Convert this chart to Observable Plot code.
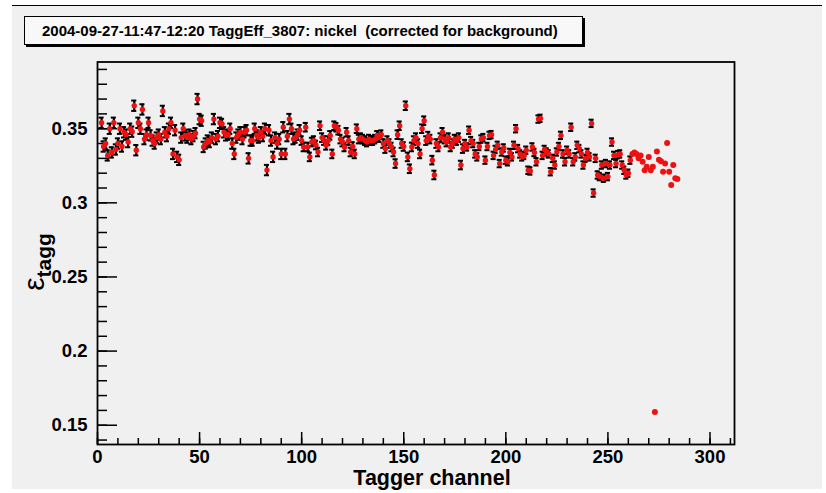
<!DOCTYPE html>
<html><head><meta charset="utf-8">
<script src="https://cdn.jsdelivr.net/npm/d3@7"></script>
<script src="https://cdn.jsdelivr.net/npm/@observablehq/plot@0.6"></script>
<style>
html,body{margin:0;padding:0;background:#fff;width:826px;height:493px;overflow:hidden;font-family:"Liberation Sans",Arial,sans-serif;}
#canvas{position:absolute;left:12px;top:5px;width:810px;height:483px;background:#f0f0f0;border-top:1.5px solid #000;}
#chart{position:absolute;left:0;top:0;}
#title{position:absolute;left:24px;top:16px;width:559px;height:29px;background:#f8f8f8;border:1.5px solid #000;box-shadow:2px 2px 0 #000;font:bold 15px "Liberation Sans",Arial,sans-serif;line-height:27px;padding-left:17px;box-sizing:border-box;white-space:pre;color:#000;}
</style></head><body>
<div id="canvas"></div>
<div id="chart"></div>
<div id="title">2004-09-27-11:47-12:20 TaggEff_3807: nickel  (corrected for background)</div>
<script>
// Tagging efficiency with error bars, channels 2..261
const effStartChannel = 2;
const efficiency = [
  0.354, 0.338, 0.340, 0.332, 0.350, 0.334, 0.354, 0.336, 0.340, 0.350,
  0.338, 0.3476, 0.346, 0.341, 0.350, 0.348, 0.3655, 0.3355, 0.354, 0.350,
  0.363, 0.343, 0.346, 0.354, 0.3455, 0.342, 0.340, 0.344, 0.346, 0.343,
  0.362, 0.3476, 0.345, 0.350, 0.354, 0.333, 0.349, 0.331, 0.329, 0.344,
  0.350, 0.3455, 0.344, 0.346, 0.343, 0.345, 0.347, 0.370, 0.3565, 0.3554,
  0.3377, 0.340, 0.342, 0.341, 0.344, 0.3565, 0.343, 0.345, 0.354, 0.3532,
  0.3476, 0.3455, 0.346, 0.350, 0.340, 0.333, 0.344, 0.346, 0.3476, 0.343,
  0.3476, 0.349, 0.330, 0.342, 0.342, 0.350, 0.3455, 0.344, 0.3476, 0.345,
  0.350, 0.3221, 0.349, 0.342, 0.331, 0.344, 0.340, 0.343, 0.333, 0.351,
  0.333, 0.345, 0.3565, 0.350, 0.343, 0.344, 0.346, 0.349, 0.342, 0.3377,
  0.351, 0.3377, 0.331, 0.341, 0.342, 0.339, 0.3343, 0.352, 0.344, 0.342,
  0.3388, 0.342, 0.3455, 0.333, 0.352, 0.351, 0.349, 0.343, 0.341, 0.3377,
  0.3476, 0.342, 0.3343, 0.338, 0.333, 0.350, 0.343, 0.344, 0.343, 0.342,
  0.341, 0.343, 0.342, 0.342, 0.343, 0.3455, 0.344, 0.346, 0.340, 0.3366,
  0.342, 0.340, 0.3377, 0.3343, 0.3265, 0.346, 0.352, 0.340, 0.338, 0.3655,
  0.331, 0.323, 0.3377, 0.342, 0.344, 0.340, 0.333, 0.350, 0.3554, 0.342,
  0.345, 0.343, 0.3288, 0.3188, 0.340, 0.3377, 0.344, 0.3476, 0.343, 0.341,
  0.344, 0.3377, 0.340, 0.343, 0.342, 0.344, 0.3255, 0.3366, 0.340, 0.3377,
  0.349, 0.342, 0.340, 0.333, 0.331, 0.338, 0.343, 0.344, 0.3288, 0.338,
  0.3455, 0.346, 0.332, 0.336, 0.3388, 0.3265, 0.3343, 0.337, 0.3288, 0.3277,
  0.334, 0.331, 0.3388, 0.350, 0.3366, 0.333, 0.331, 0.332, 0.3355, 0.322,
  0.3215, 0.3377, 0.334, 0.3277, 0.3565, 0.357, 0.332, 0.336, 0.3343, 0.333,
  0.321, 0.330, 0.3255, 0.3343, 0.338, 0.3455, 0.333, 0.3277, 0.3355, 0.333,
  0.351, 0.3277, 0.331, 0.3388, 0.3366, 0.333, 0.3255, 0.330, 0.334, 0.331,
  0.3536, 0.3066, 0.330, 0.3188, 0.3177, 0.3255, 0.3166, 0.3265, 0.3177, 0.3255,
  0.341, 0.332, 0.3265, 0.3325, 0.333, 0.3255, 0.322, 0.3188, 0.320, 0.3288
];
// error half-widths by channel range [from, to, error]
const errorRanges = [[0, 99, 0.0035], [100, 179, 0.0029], [180, 400, 0.0025]];
// points without error bars, channels 262..284
const redStartChannel = 262;
const redOnly = [
  0.333, 0.334, 0.333, 0.330, 0.332, 0.3277, 0.322, 0.3243, 0.331, 0.322,
  0.3243, 0.159, 0.3347, 0.329, 0.328, 0.321, 0.3265, 0.3403, 0.321, 0.312,
  0.3255, 0.3166, 0.316
];
const xMajorTicks = [0, 50, 100, 150, 200, 250, 300];
const xMinorTicks = [0,10,20,30,40,50,60,70,80,90,100,110,120,130,140,150,160,170,180,190,200,210,220,230,240,250,260,270,280,290,300,310];
const yMajorTicks = [0.15, 0.2, 0.25, 0.3, 0.35];
const yMinorTicks = [0.14,0.15,0.16,0.17,0.18,0.19,0.2,0.21,0.22,0.23,0.24,0.25,0.26,0.27,0.28,0.29,0.3,0.31,0.32,0.33,0.34,0.35,0.36,0.37,0.38,0.39];
const xDomain = [0, 312];
const yDomain = [0.137, 0.395];

const errFor = c => errorRanges.find(r => c >= r[0] && c <= r[1])[2];
const pts = efficiency.map((v, i) => {
  const c = effStartChannel + i;
  return {c, v, e: errFor(c)};
});
const reds = redOnly.map((v, i) => ({c: redStartChannel + i, v}));

const fontOpts = {fontSize: 18.5, fontWeight: "bold", fontFamily: "Liberation Sans, Arial, sans-serif"};

const plot = Plot.plot({
  width: 826,
  height: 493,
  marginLeft: 97,
  marginRight: 92,
  marginTop: 61.5,
  marginBottom: 49,
  style: {background: "transparent", color: "black", overflow: "visible"},
  x: {domain: xDomain, axis: null},
  y: {domain: yDomain, axis: null},
  marks: [
    Plot.axisX({ticks: xMinorTicks, tickSize: -6, tickFormat: () => "", label: null, stroke: "black", strokeWidth: 1.5}),
    Plot.axisX({ticks: xMajorTicks, tickSize: -12, tickFormat: () => "", label: null, stroke: "black", strokeWidth: 1.5}),
    Plot.axisX({ticks: xMajorTicks, tickSize: 0, tickPadding: 5, tickFormat: d => String(d), label: null, ...fontOpts}),
    Plot.axisY({ticks: yMinorTicks, tickSize: -10, tickFormat: () => "", label: null, stroke: "black", strokeWidth: 1.5}),
    Plot.axisY({ticks: yMajorTicks, tickSize: -20, tickFormat: () => "", label: null, stroke: "black", strokeWidth: 1.5}),
    Plot.axisY({ticks: yMajorTicks, tickSize: 0, tickPadding: 10, tickFormat: d => String(+d.toFixed(2)), label: null, ...fontOpts}),
    Plot.ruleX(pts, {x: "c", y1: d => d.v - d.e, y2: d => d.v + d.e, stroke: "black", strokeWidth: 2.2}),
    Plot.ruleY(pts, {y: d => d.v + d.e, x1: d => d.c - 1.25, x2: d => d.c + 1.25, stroke: "black", strokeWidth: 2}),
    Plot.ruleY(pts, {y: d => d.v - d.e, x1: d => d.c - 1.25, x2: d => d.c + 1.25, stroke: "black", strokeWidth: 2}),
    Plot.dot(pts, {x: "c", y: "v", r: 2.7, fill: "#ee1111", stroke: "none"}),
    Plot.dot(reds, {x: "c", y: "v", r: 3, fill: "#ee1111", stroke: "none"}),
    Plot.frame({stroke: "black", strokeWidth: 1.8})
  ]
});
document.getElementById("chart").appendChild(plot);

const svg = d3.select(plot);
const yt = svg.append("text")
  .attr("transform", "translate(44,262) rotate(-90)")
  .attr("text-anchor", "middle")
  .attr("font-family", "Liberation Sans, Arial, sans-serif")
  .attr("fill", "black");
yt.append("tspan").attr("font-size", 30).text("ε");
yt.append("tspan").attr("font-size", 21).attr("font-weight", "bold").attr("dy", 7).text("tagg");
svg.append("text")
  .attr("x", 432).attr("y", 485)
  .attr("text-anchor", "middle")
  .attr("font-family", "Liberation Sans, Arial, sans-serif")
  .attr("font-size", 21.5).attr("font-weight", "bold")
  .attr("fill", "black")
  .text("Tagger channel");
</script>
</body></html>
